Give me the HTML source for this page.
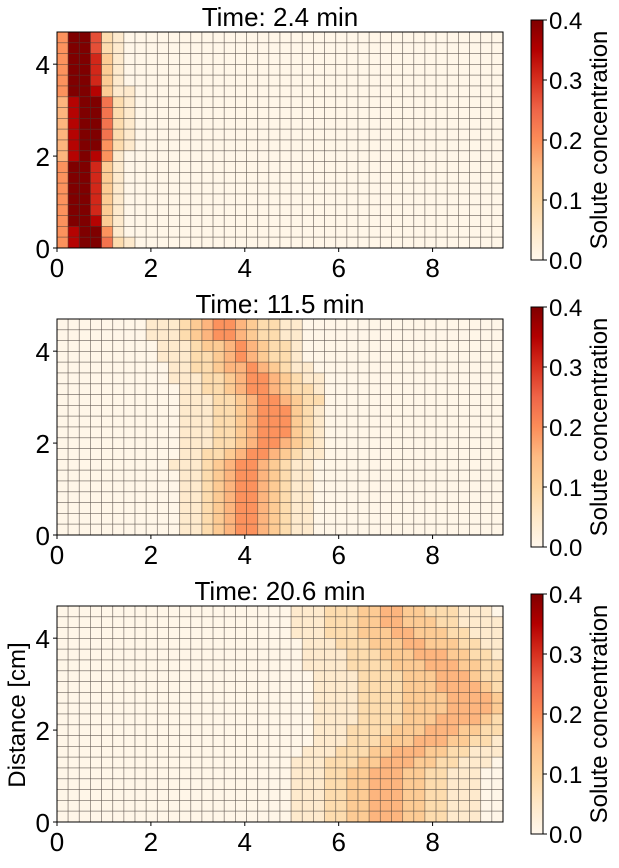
<!DOCTYPE html>
<html><head><meta charset="utf-8"><style>
body{margin:0;background:#fff;width:619px;height:863px;overflow:hidden}
svg text{font-family:"Liberation Sans",Arial,sans-serif;fill:#000}
</style></head><body>
<svg id="fig" width="619" height="863" xmlns="http://www.w3.org/2000/svg">
<defs><linearGradient id="cmap" x1="0" y1="1" x2="0" y2="0">
<stop offset="0" stop-color="#fff7ec"/><stop offset="0.125" stop-color="#fee8c8"/><stop offset="0.25" stop-color="#fdd49e"/><stop offset="0.375" stop-color="#fdbb84"/><stop offset="0.5" stop-color="#fc8d59"/><stop offset="0.625" stop-color="#ef6548"/><stop offset="0.75" stop-color="#d7301f"/><stop offset="0.875" stop-color="#b30000"/><stop offset="1" stop-color="#7f0000"/></linearGradient></defs>
</svg>
<script>
const titles = ["Time: 2.4 min","Time: 11.5 min","Time: 20.6 min"];
const xTicks = [0,2,4,6,8];
const yTicks = [0,2,4];
const cbTicks = [0,0.1,0.2,0.3,0.4];
const Z = "0".repeat(40);
const panel1 = [
"5bb7210","5bb7210","5bb8310","5bb8310","5bb8310","5bb9311","49bb621","49bb621","49bb621","49bb621",
"49bb521","49b9510","5bb8310","5bb8310","5bb8310","5bb8310","5bb8310","5bb9310","59bb510","59bb621"].map(s=>(s+Z).slice(0,40));
const panel2 = [
"1112345543221100","1112345543221100","0111233454322100","0111223454322100","0011223445432110",
"0011122345543211","0001122345543221","0001112234554322","0001112234555321","0001112234555321",
"0001112234555321","0001112234554321","0001122345543211","0011123455432110","0001123455432110",
"0001123455432110","0001123455432110","0001123455432110","0001123455432110","0001123455432110"].map(s=>("00000000"+s+Z).slice(0,40));
const panel3 = [
"01112223344332221110","01112223344333221111","01112223334433322111","00111222333443332211","00111122233344433221",
"00111122223334443322","00011112222333444322","00011112222333444432","00011112222333344443","00011112222333344443",
"00011112222333444432","00011122223334443322","00011122233344433221","00111222334443322111","01112223344433221110",
"01112233444332211100","01112233444332211100","01112233444332211100","01112233444332211100","01112233444332211100"].map(s=>("00000000000000000000"+s).slice(0,40));
const panels = [panel1,panel2,panel3];
const LEVEL = 0.038;
const XMAX=9.5, YMAX=4.7, NC=40, NR=20;
const stops=[[255,247,236],[254,232,200],[253,212,158],[253,187,132],[252,141,89],[239,101,72],[215,48,31],[179,0,0],[127,0,0]];
function cmap(v){let t=Math.max(0,Math.min(1,v/0.4))*8;let i=Math.min(7,Math.floor(t)),f=t-i;
const a=stops[i],b=stops[i+1];return `rgb(${a.map((c,k)=>Math.round(c+(b[k]-c)*f)).join(',')})`;}
const svg=document.getElementById('fig');const NS="http://www.w3.org/2000/svg";
function mk(tag,attrs,parent){const e=document.createElementNS(NS,tag);for(const k in attrs)e.setAttribute(k,attrs[k]);(parent||svg).appendChild(e);return e;}
const L=57,R=503,W=R-L,H=216;
panels.forEach((data,p)=>{
  const top=32+p*287, bot=top+H;
  const xs=v=>L+v/XMAX*W, ys=v=>bot-v/YMAX*H;
  const g=mk('g',{});
  
  
  const cw=XMAX/NC, rh=YMAX/NR;
  data.forEach((row,r)=>{for(let c=0;c<NC;c++){
    const v=parseInt(row[c],16)*LEVEL+0.005;
    const x0=xs(c*cw),x1=xs((c+1)*cw),y0=ys(YMAX-r*rh),y1=ys(YMAX-(r+1)*rh);
    const rc=mk('rect',{x:x0,y:y0,width:x1-x0,height:y1-y0,fill:cmap(v),stroke:'rgba(60,50,45,0.45)','stroke-width':0.8},g);
    
    
  }});
  const fr=mk('rect',{x:L,y:top,width:W,height:H,fill:'none',stroke:'#000','stroke-width':1});
  
  
  const t=mk('text',{x:(L+R)/2,y:top-6,'font-size':26,'text-anchor':'middle'});t.textContent=titles[p];
  
  
  xTicks.forEach(v=>{const x=xs(v);mk('line',{x1:x,x2:x,y1:bot,y2:bot+4,stroke:'#000'});
    const tx=mk('text',{x:x,y:bot+29,'font-size':26,'text-anchor':'middle'});tx.textContent=v;
    
    });
  yTicks.forEach(v=>{const y=ys(v);mk('line',{x1:L-4,x2:L,y1:y,y2:y,stroke:'#000'});
    const tx=mk('text',{x:L-7,y:y+10,'font-size':26,'text-anchor':'end'});tx.textContent=v;
    
    });
  const cbt=20+p*287,cbh=240;
  const cb=mk('rect',{x:531,y:cbt,width:12,height:cbh,fill:'url(#cmap)',stroke:'#000','stroke-width':1});
  
  
  cbTicks.forEach(v=>{const y=cbt+cbh-v/0.4*cbh;mk('line',{x1:543,x2:547,y1:y,y2:y,stroke:'#000'});
    const tx=mk('text',{x:549,y:y+9,'font-size':24});tx.textContent=v.toFixed(1);
    
    });
  const cl=mk('text',{x:0,y:0,'font-size':24,'text-anchor':'middle',transform:`translate(607,${cbt+cbh/2}) rotate(-90)`});
  cl.textContent='Solute concentration';
  
  
});
const yl=mk('text',{x:0,y:0,'font-size':24,'text-anchor':'middle',transform:'translate(25,715) rotate(-90)'});
yl.textContent='Distance [cm]';


</script>
</body></html>
